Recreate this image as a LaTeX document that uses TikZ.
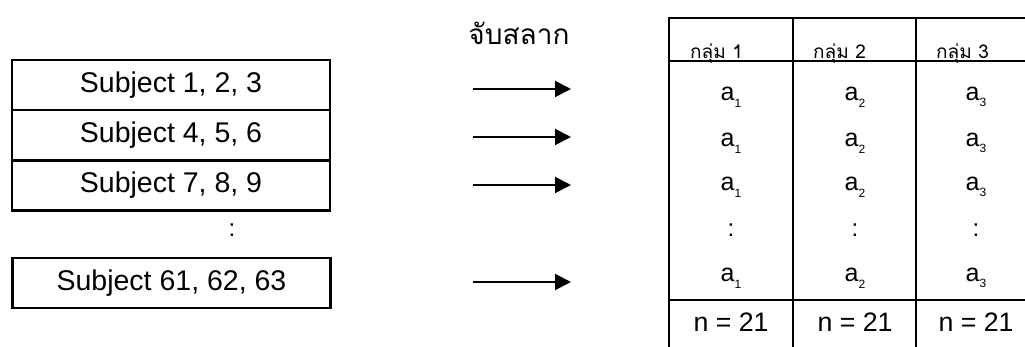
\documentclass[tikz,border=0pt]{standalone}
\usepackage{fontspec}
\setmainfont{Liberation Sans}
\newfontfamily\thaifont[Script=Thai]{Loma}
\usetikzlibrary{arrows.meta}
\newcommand\asub[1]{a\raisebox{-0.5ex}{\fontsize{12}{12}\selectfont #1}}
\tikzset{
  subjbox/.style={draw, line width=2.2pt, minimum width=318pt, minimum height=50pt, inner sep=0pt, font=\fontsize{28.5}{30}\selectfont},
  arr/.style={line width=2pt, -{Triangle[length=16pt, width=16pt]}},
  grid/.style={line width=2.2pt},
  cell/.style={inner sep=0pt, font=\fontsize{25}{26}\selectfont},
  ncell/.style={inner sep=0pt, font=\fontsize{26.7}{28}\selectfont},
  head/.style={inner sep=0pt, anchor=base west, font=\thaifont\fontsize{19}{20}\selectfont},
  dots/.style={inner sep=0pt, font=\fontsize{24}{26}\selectfont}
}
\begin{document}
\begin{tikzpicture}[x=1pt, y=-1pt]
\useasboundingbox[fill=white] (0,0) rectangle (1025,347);
% left boxes
\node[subjbox] (s1) at (171,85) {Subject 1, 2, 3};
\node[subjbox] (s2) at (171,135) {Subject 4, 5, 6};
\node[subjbox] (s3) at (171,185.5) {Subject 7, 8, 9};
\node[dots] (sd) at (232,230) {:};
\node[subjbox] (s4) at (171.5,283) {Subject 61, 62, 63};
% label
\node[inner sep=0pt, font=\thaifont\fontsize{28}{30}\selectfont] (lab) at (519,33) {จับสลาก};
% arrows
\coordinate (a1s) at (473,89);  \coordinate (a1e) at (571,89);
\coordinate (a2s) at (473,137); \coordinate (a2e) at (571,137);
\coordinate (a3s) at (473,185); \coordinate (a3e) at (571,185);
\coordinate (a4s) at (473,282); \coordinate (a4e) at (571,282);
\draw[arr] (a1s) -- (a1e);
\draw[arr] (a2s) -- (a2e);
\draw[arr] (a3s) -- (a3e);
\draw[arr] (a4s) -- (a4e);
% table grid
\draw[grid] (669,347) -- (669,18) -- (1030,18);
\draw[grid] (793,18) -- (793,347);
\draw[grid] (916,18) -- (916,347);
\draw[grid] (669,61) -- (1030,61);
\draw[grid] (669,300) -- (1030,300);
% headers
\node[head] (h1) at (690,59) {กลุ่ม 1};
\node[head] (h2) at (813,59) {กลุ่ม 2};
\node[head] (h3) at (936,59) {กลุ่ม 3};
% cells
\foreach \y/\r in {97/1,143/2,187/3,278/5}{
  \node[cell] (c1\r) at (731,\y) {\asub{1}};
  \node[cell] (c2\r) at (855,\y) {\asub{2}};
  \node[cell] (c3\r) at (976,\y) {\asub{3}};
}
\node[dots] (d1) at (731,230) {:};
\node[dots] (d2) at (855,230) {:};
\node[dots] (d3) at (976,230) {:};
\node[ncell] (n1) at (731,322) {n = 21};
\node[ncell] (n2) at (855,322) {n = 21};
\node[ncell] (n3) at (976,322) {n = 21};
\end{tikzpicture}
\end{document}
